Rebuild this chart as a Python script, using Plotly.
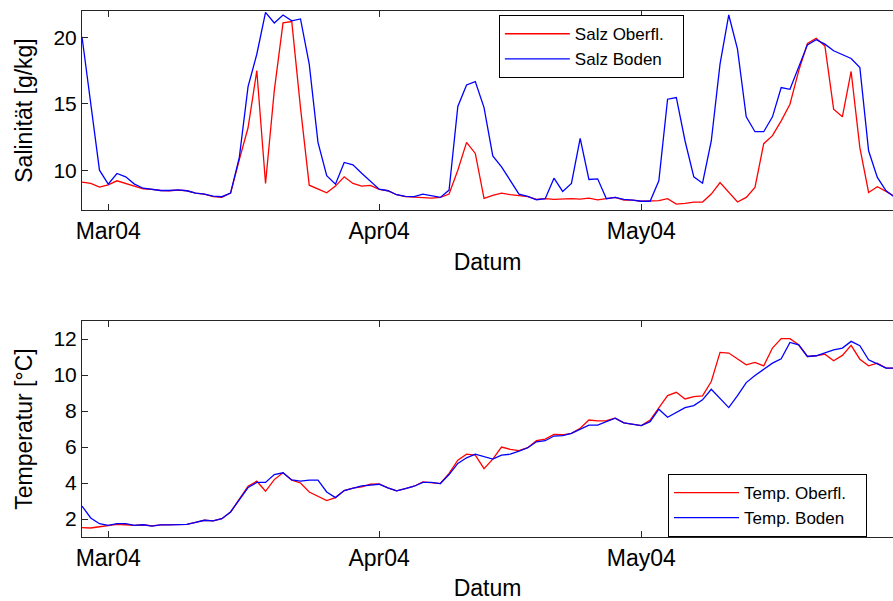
import pandas as pd
import plotly.graph_objects as go
from plotly.subplots import make_subplots

start_date = "2004-02-27"
n_days = 94
dates = pd.date_range(start_date, periods=n_days, freq="D")

salz_oberfl = [9.1, 9.0, 8.72, 8.9, 9.2, 9.0, 8.8, 8.6, 8.55, 8.47, 8.45, 8.5, 8.45, 8.27, 8.2, 8.0,
               7.95, 8.27, 10.8, 13.2, 17.5, 9.0, 16.0, 21.1, 21.2, 14.7, 8.87, 8.6, 8.3, 8.8, 9.5, 9.0,
               8.8, 8.85, 8.55, 8.45, 8.15, 8.0, 7.95, 7.9, 7.9, 7.95, 8.2, 10.0, 12.1, 11.26, 7.87, 8.1,
               8.27, 8.15, 8.1, 8.0, 7.8, 7.85, 7.8, 7.85, 7.85, 7.82, 7.9, 7.77, 7.85, 7.95, 7.75, 7.75,
               7.66, 7.66, 7.7, 7.85, 7.44, 7.5, 7.6, 7.6, 8.2, 9.07, 8.32, 7.6, 7.95, 8.7, 12.0, 12.6,
               13.72, 14.97, 17.49, 19.55, 19.95, 19.37, 14.6, 14.02, 17.44, 11.7, 8.32, 8.75, 8.4, 8.0]
salz_boden = [20.05, 14.97, 10.0, 8.95, 9.75, 9.5, 8.95, 8.64, 8.57, 8.47, 8.47, 8.52, 8.45, 8.27, 8.2, 8.04,
              8.0, 8.27, 10.96, 16.3, 18.74, 21.9, 21.1, 21.7, 21.26, 21.4, 18.0, 12.1, 9.58, 8.95, 10.58, 10.4,
              9.77, 9.2, 8.57, 8.45, 8.15, 8.02, 8.0, 8.2, 8.1, 7.95, 8.5, 14.8, 16.43, 16.68, 14.72, 11.08,
              10.25, 9.2, 8.2, 8.02, 7.77, 7.85, 9.4, 8.4, 9.0, 12.39, 9.3, 9.35, 7.85, 7.95, 7.8, 7.75,
              7.66, 7.66, 9.2, 15.35, 15.48, 12.2, 9.5, 9.02, 12.2, 17.99, 21.7, 19.12, 14.02, 12.9, 12.9, 14.02,
              16.23, 16.1, 17.74, 19.45, 19.83, 19.5, 19.0, 18.74, 18.42, 17.74, 11.46, 9.45, 8.45, 7.95]

temp_oberfl = [1.52, 1.5, 1.57, 1.65, 1.7, 1.68, 1.65, 1.68, 1.62, 1.67, 1.67, 1.68, 1.7, 1.81, 1.93, 1.9,
               2.02, 2.39, 3.08, 3.82, 4.1, 3.54, 4.19, 4.57, 4.16, 4.0, 3.5, 3.26, 3.02, 3.19, 3.58, 3.71,
               3.78, 3.93, 3.95, 3.73, 3.56, 3.69, 3.82, 4.06, 4.03, 3.97, 4.53, 5.27, 5.6, 5.55, 4.8, 5.33,
               6.0, 5.87, 5.8, 5.96, 6.35, 6.44, 6.7, 6.68, 6.76, 7.04, 7.5, 7.45, 7.46, 7.6, 7.34, 7.26,
               7.19, 7.5, 8.19, 8.86, 9.04, 8.67, 8.8, 8.84, 9.64, 11.26, 11.22, 10.88, 10.57, 10.7, 10.51, 11.5,
               12.02, 12.02, 11.68, 11.03, 11.07, 11.16, 10.79, 11.09, 11.65, 10.88, 10.51, 10.66, 10.38, 10.38]
temp_boden = [2.72, 2.06, 1.74, 1.65, 1.74, 1.74, 1.65, 1.68, 1.6, 1.67, 1.67, 1.68, 1.7, 1.81, 1.93, 1.9,
              2.02, 2.39, 3.04, 3.75, 4.03, 4.03, 4.47, 4.57, 4.17, 4.1, 4.16, 4.16, 3.5, 3.19, 3.58, 3.7,
              3.84, 3.88, 3.93, 3.73, 3.56, 3.69, 3.82, 4.03, 4.04, 3.97, 4.47, 5.09, 5.4, 5.6, 5.48, 5.33,
              5.55, 5.6, 5.77, 5.96, 6.29, 6.35, 6.61, 6.63, 6.76, 6.98, 7.22, 7.22, 7.41, 7.6, 7.34, 7.26,
              7.19, 7.41, 8.1, 7.65, 7.91, 8.19, 8.3, 8.62, 9.21, 8.67, 8.19, 8.86, 9.58, 9.97, 10.29, 10.66,
              10.9, 11.81, 11.68, 11.03, 11.07, 11.22, 11.4, 11.5, 11.87, 11.63, 10.85, 10.62, 10.38, 10.38]

tick_dates = ["2004-03-01", "2004-04-01", "2004-05-01"]
tick_labels = ["Mar04", "Apr04", "May04"]
x_range = ["2004-02-27 00:00", "2004-05-29 19:00"]

RED = "#ff0000"
BLUE = "#0000ff"
FONT = "Liberation Sans, Arial, sans-serif"
AX = "#262626"
PAD = "\u00a0\u00a0\u00a0"

fig = make_subplots(rows=2, cols=1, shared_xaxes=False, vertical_spacing=0.0)

fig.add_trace(go.Scatter(x=dates, y=salz_oberfl, mode="lines", name="Salz Oberfl." + PAD,
                         line=dict(color=RED, width=1.3), legend="legend"), row=1, col=1)
fig.add_trace(go.Scatter(x=dates, y=salz_boden, mode="lines", name="Salz Boden",
                         line=dict(color=BLUE, width=1.3), legend="legend"), row=1, col=1)
fig.add_trace(go.Scatter(x=dates, y=temp_oberfl, mode="lines", name="Temp. Oberfl." + PAD,
                         line=dict(color=RED, width=1.3), legend="legend2"), row=2, col=1)
fig.add_trace(go.Scatter(x=dates, y=temp_boden, mode="lines", name="Temp. Boden",
                         line=dict(color=BLUE, width=1.3), legend="legend2"), row=2, col=1)

xcommon = dict(range=x_range, tickvals=tick_dates, ticktext=tick_labels, automargin=False,
               ticks="inside", ticklen=6, tickcolor=AX, showline=True, linecolor=AX, linewidth=1,
               mirror="allticks", showgrid=False, zeroline=False,
               tickfont=dict(family=FONT, size=23, color="#000000"),
               title=dict(text="Datum", font=dict(family=FONT, size=23, color="#000000"), standoff=11))
fig.update_xaxes(**xcommon, domain=[0, 1], row=1, col=1)
fig.update_xaxes(**xcommon, domain=[0, 1], row=2, col=1)

ycommon = dict(ticks="inside", ticklen=6, tickcolor=AX, showline=True, linecolor=AX, linewidth=1,
               mirror=False, showgrid=False, zeroline=False, automargin=False,
               tickfont=dict(family=FONT, size=21, color="#000000"))
fig.update_yaxes(**ycommon, range=[7, 22], tickvals=[10, 15, 20], domain=[0.6217, 1.0],
                 title=dict(text="Salinität [g/kg]", font=dict(family=FONT, size=23, color="#000000"), standoff=14),
                 row=1, col=1)
fig.update_yaxes(**ycommon, range=[1, 13], tickvals=[2, 4, 6, 8, 10, 12], domain=[0.0, 0.4106],
                 title=dict(text="Temperatur [°C]", font=dict(family=FONT, size=23, color="#000000"), standoff=14),
                 row=2, col=1)

legend_style = dict(bgcolor="#ffffff", bordercolor="#000000", borderwidth=1,
                    font=dict(family=FONT, size=17, color="#000000"), itemwidth=65,
                    xanchor="left", yanchor="top", tracegroupgap=0)
fig.update_layout(
    width=893, height=601,
    margin=dict(l=82, r=0, t=11, b=64, autoexpand=False),
    paper_bgcolor="#ffffff", plot_bgcolor="#ffffff",
    showlegend=True,
    legend=dict(**legend_style, x=0.514, y=0.992),
    legend2=dict(**legend_style, x=0.7226, y=0.1198),
)

fig.write_html("out.html", config={"displayModeBar": False},
               post_script="document.body.style.margin='0';document.body.style.overflow='hidden';")
